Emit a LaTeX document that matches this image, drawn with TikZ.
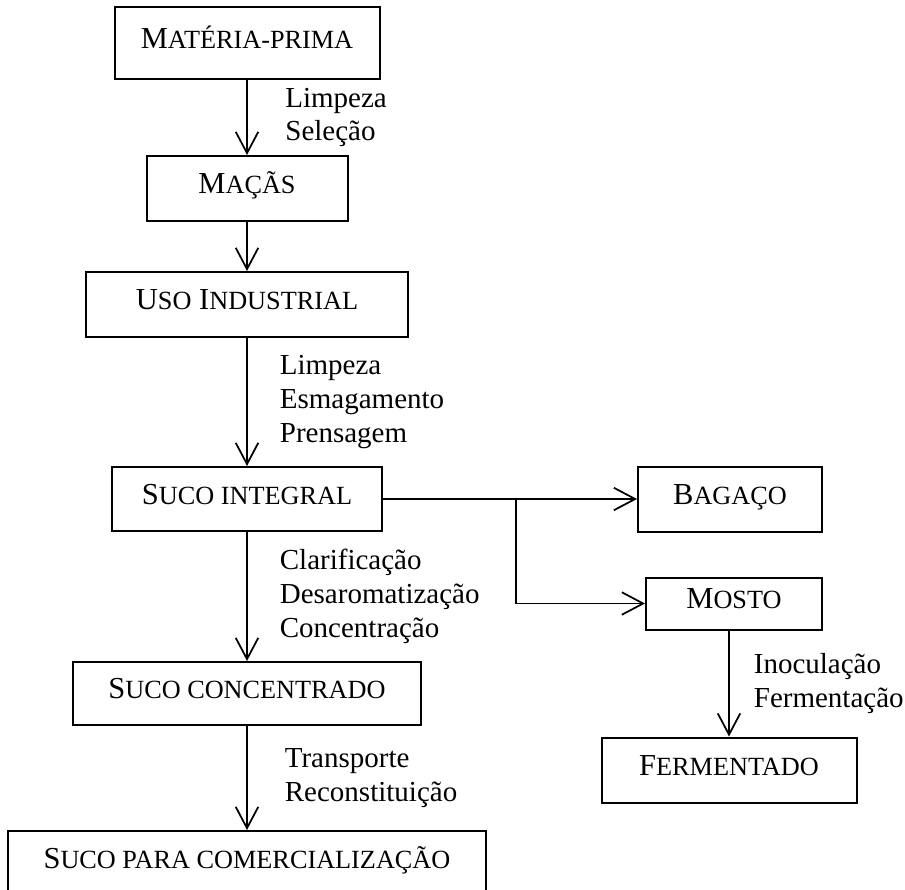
\documentclass[tikz,border=0pt]{standalone}
\usepackage{fontspec}
\setmainfont{Liberation Serif}
\usepackage{tikz}
\usetikzlibrary{arrows.meta,positioning}
\newcommand{\smcaps}[1]{{\fontsize{10.5}{11}\selectfont #1}}

\begin{document}
\begin{tikzpicture}[
  node distance=20pt,
  box/.style={draw, line width=0.8pt, inner sep=0pt, minimum height=26pt,
              text height=8pt, text depth=4pt, font=\fontsize{12.2}{14}\selectfont},
  arr/.style={-{Straight Barb[length=8.5pt,width=9pt]}, line width=0.7pt},
  lbl/.style={inner sep=0pt, align=left, font=\fontsize{11.6}{13.5}\selectfont}
]
  \useasboundingbox (0,0) rectangle (362pt,-356pt);

  \node[box, minimum width=106pt, minimum height=28.8pt] (mp) at (98.8pt,-17.2pt) {M\smcaps{ATÉRIA-PRIMA}};
  \node[box, minimum width=80.4pt, below=30pt of mp]         (macas)  {M\smcaps{AÇÃS}};
  \node[box, minimum width=128.8pt, below=19.6pt of macas]   (uso)    {U\smcaps{SO} I\smcaps{NDUSTRIAL}};
  \node[box, minimum width=108pt, minimum height=25.6pt, below=51.2pt of uso] (integral) {S\smcaps{UCO INTEGRAL}};
  \node[box, minimum width=139.2pt, minimum height=25.2pt, below=51.6pt of integral] (conc) {S\smcaps{UCO CONCENTRADO}};
  \node[box, minimum width=191.2pt, minimum height=0pt, inner ysep=7pt, text depth=20pt,
        below=41.6pt of conc] (comerc) {S\smcaps{UCO PARA COMERCIALIZAÇÃO}};

  \node[box, minimum width=73.6pt, right=101.6pt of integral] (bagaco) {B\smcaps{AGAÇO}};
  \node[box, minimum width=70.4pt, minimum height=20.8pt, below=17.6pt of bagaco.south east,
        anchor=north east] (mosto) {M\smcaps{OSTO}};
  \node[box, minimum width=102pt, below=42.4pt of mosto, xshift=-2pt] (ferm) {F\smcaps{ERMENTADO}};
  \coordinate[right=53.2pt of integral.east] (split);

  \draw[arr] (mp) -- node[lbl, right=15pt] {Limpeza\\Seleção} (macas);
  \draw[arr] (macas) -- (uso);
  \draw[arr] (uso) -- node[lbl, right=12.8pt] {Limpeza\\Esmagamento\\Prensagem} (integral);
  \draw[arr] (integral) -- node[lbl, right=12.8pt] {Clarificação\\Desaromatização\\Concentração} (conc);
  \draw[arr] (conc) -- node[lbl, right=14.8pt] {Transporte\\Reconstituição} (comerc);
  \draw[arr] (integral) -- (bagaco);
  \draw[arr] (split) |- (mosto);
  \draw[arr] (mosto.south -| ferm.north) -- node[lbl, right=9.6pt] {Inoculação\\Fermentação} (ferm.north);
\end{tikzpicture}
\end{document}
